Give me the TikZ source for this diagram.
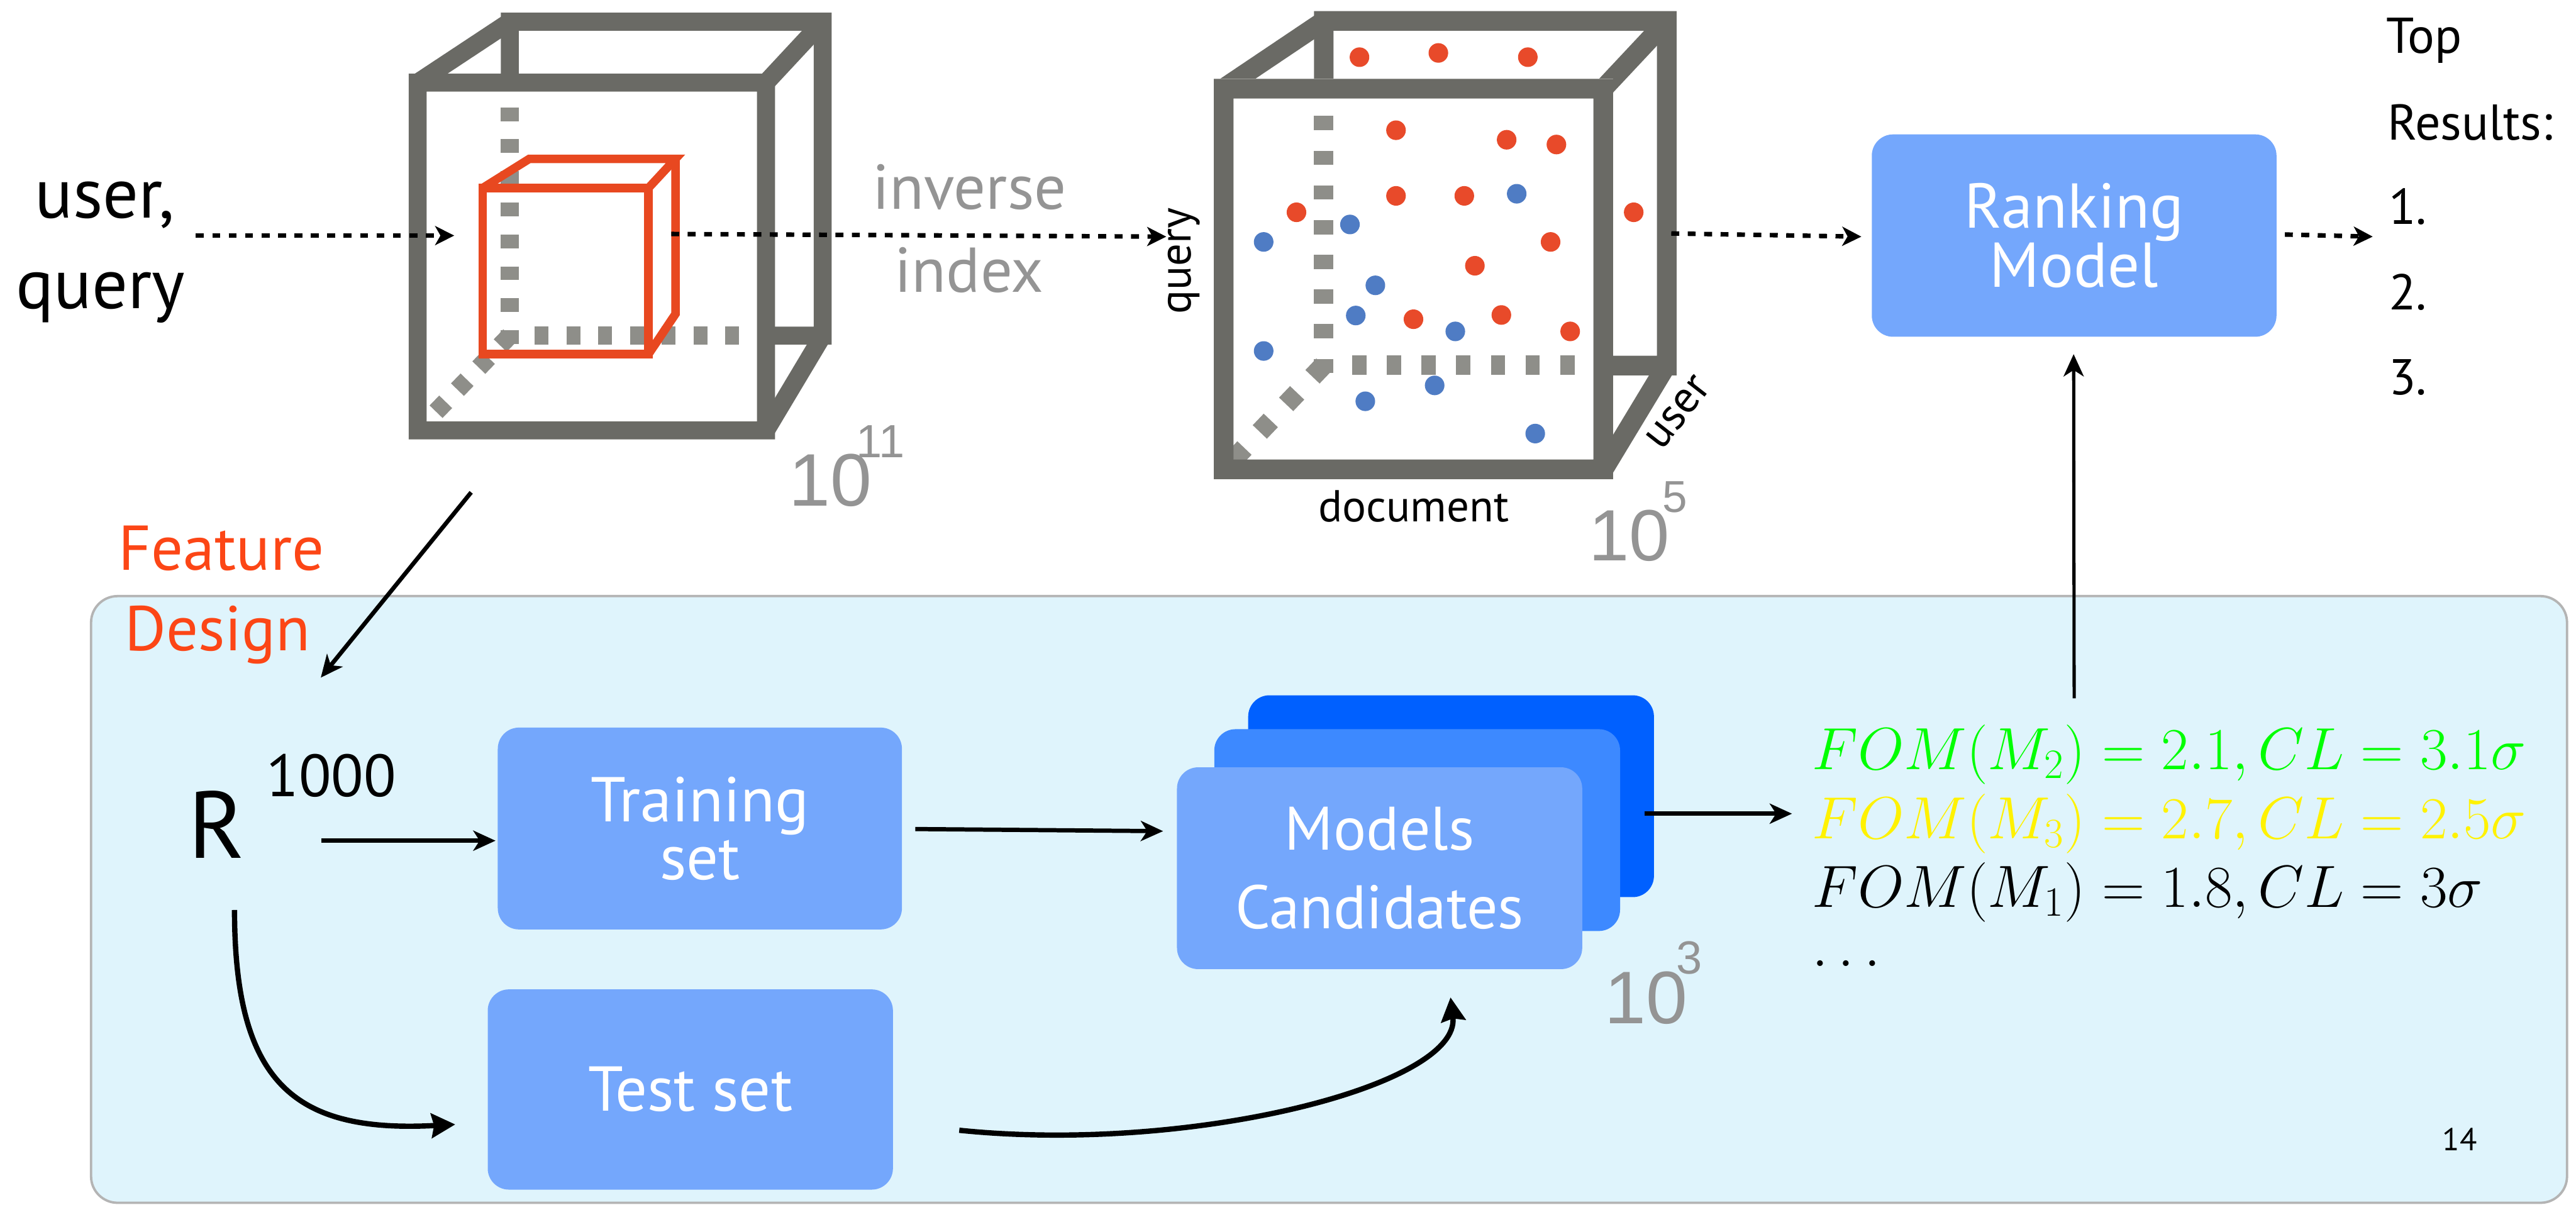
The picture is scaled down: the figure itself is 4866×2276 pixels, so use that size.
\RequirePackage{fix-cm}
\documentclass[tikz,border=0pt]{standalone}
\usepackage{fontspec}
\setmainfont{PT Sans}
\newfontfamily\numfont{Liberation Sans}
\usetikzlibrary{arrows.meta}
\definecolor{framegray}{RGB}{106,106,101}
\definecolor{hidgray}{RGB}{142,142,137}
\definecolor{cubered}{RGB}{232,72,32}
\definecolor{dotred}{RGB}{232,74,42}
\definecolor{dotblue}{RGB}{79,124,196}
\definecolor{boxblue}{RGB}{116,167,252}
\definecolor{midblue}{RGB}{61,137,255}
\definecolor{deepblue}{RGB}{0,96,255}
\definecolor{panelfill}{RGB}{223,244,252}
\definecolor{panelline}{RGB}{180,180,180}
\definecolor{numgray}{RGB}{148,148,148}
\definecolor{featred}{RGB}{252,70,22}
\newcommand\fsz[2]{\fontsize{#1}{#2}\selectfont}
\begin{document}
\begin{tikzpicture}[x=0.01cm,y=-0.01cm,
  lbl/.style={inner sep=0pt,outer sep=0pt,anchor=base west},
  dotarrow/.style={line width=0.085cm,dash pattern=on 0.15cm off 0.16cm,-{Stealth[length=0.36cm,width=0.36cm,inset=0.1cm]}},
  solidarrow/.style={line width=0.08cm,-{Stealth[length=0.42cm,width=0.38cm,inset=0.12cm]}},
  curvearrow/.style={line width=0.1cm,-{Stealth[length=0.45cm,width=0.46cm,inset=0.05cm]}},
  bluebox/.style={rounded corners=0.4cm,fill=boxblue,text=white,align=center,inner sep=0pt,font=\fsz{34}{31}},
  framefill/.style={fill=framegray,even odd rule},
  edgeA/.style={draw=framegray,line width=0.34cm},
  edgeB/.style={draw=framegray,line width=0.37cm},
  hidA/.style={draw=hidgray,line width=0.34cm,dash pattern=on 0.26cm off 0.34cm},
  hidB/.style={draw=hidgray,line width=0.37cm,dash pattern=on 0.27cm off 0.385cm},
  redcube/.style={draw=cubered,line width=0.16cm,line join=miter},
  rdot/.style={fill=dotred},
  bdot/.style={fill=dotblue},
  expo/.style={lbl,text=numgray}
]
\useasboundingbox (0,0) rectangle (4866,2276);

% ---------- panel ----------
\draw[fill=panelfill,draw=panelline,line width=0.045cm,rounded corners=0.5cm] (172,1126) rectangle (4849,2272);

% ---------- cube 1 ----------
\fill[framefill] (946,24) rectangle (1571,651) (980,58) rectangle (1537,617);
\draw[edgeA] (789,156) -- (963,41);
\draw[edgeA] (1447,156) -- (1554,41);
\draw[edgeA] (1447,813) -- (1554,634);
\fill[white] (772,139) rectangle (1464,830);
\draw[hidA] (963,203) -- (963,651);
\draw[hidA] (1010,634) -- (1398,634);
\draw[hidA,dash pattern=on 0.26cm off 0.32cm] (963,634) -- (806,796);
\fill[framefill] (772,139) rectangle (1464,830) (806,173) rectangle (1430,796);
% red cube
\draw[redcube] (912,355) rectangle (1225,669);
\draw[redcube] (912,355) -- (1000,300) -- (1276,300) -- (1225,355);
\draw[redcube] (1276,300) -- (1276,593) -- (1225,669);

% ---------- cube 2 ----------
\fill[framefill] (2482,21) rectangle (3167,709) (2519,58) rectangle (3130,672);
\draw[edgeB] (2311,167) -- (2500,40);
\draw[edgeB] (3029,167) -- (3148,40);
\draw[edgeB] (3029,887) -- (3148,690);
\fill[white] (2293,149) rectangle (3047,905);
\draw[hidB] (2500,219) -- (2500,709);
\draw[hidB] (2554,690) -- (2977,690);
\draw[hidB,dash pattern=on 0.3cm off 0.42cm] (2500,690) -- (2330,868);
\fill[framefill] (2293,149) rectangle (3047,905) (2330,186) rectangle (3010,868);
% dots
\foreach \p in {(2568,108),(2717,100),(2886,108),(2637,246),(2846,264),(2940,273),(2637,370),(2766,370),(3086,401),(2449,401),(2929,457),(2786,502),(2670,603),(2836,595),(2966,626)}
  \fill[rdot] \p circle[radius=0.185cm];
\foreach \p in {(2865,366),(2550,424),(2387,457),(2598,539),(2561,596),(2749,626),(2387,663),(2710,728),(2579,758),(2900,819)}
  \fill[bdot] \p circle[radius=0.185cm];

% ---------- labels top ----------
\node[lbl,font=\fsz{38}{38}] (user) at (66,412) {user,};
\node[lbl,font=\fsz{38}{38}] (query) at (30,583) {query};
\node[align=center,text=numgray,inner sep=0pt,font=\fsz{34}{44.5}] (inv) at (1831,432) {inverse\\index};
\node[rotate=90,inner sep=0pt,font=\fsz{24}{24}] (qaxis) at (2237,493) {query};
\node[lbl,font=\fsz{24}{24}] (doc) at (2490,986) {document};
\node[rotate=52,inner sep=0pt,font=\fsz{24}{24}] (uaxis) at (3170,779) {user};
\node[expo,font=\numfont\fsz{40}{40}] (e11) at (1490,956) {10};
\node[expo,font=\numfont\fsz{25}{25}] (e11s) at (1618,864) {11};
\node[expo,font=\numfont\fsz{39}{39}] (e5) at (3001,1059) {10};
\node[expo,font=\numfont\fsz{24}{24}] (e5s) at (3140,968) {5};
\node[expo,font=\numfont\fsz{40}{40}] (e3) at (3031,1933) {10};
\node[expo,font=\numfont\fsz{25}{25}] (e3s) at (3167,1839) {3};

% ---------- ranking and results ----------
\node[bluebox,minimum width=7.64cm,minimum height=3.82cm] (rank) at (3918,445) {Ranking\\Model};
\node[lbl,font=\fsz{27}{27}] (top) at (4508,100) {Top};
\node[lbl,font=\fsz{27}{27}] (res) at (4510,264) {Results:};
\node[lbl,font=\fsz{27}{27}] (r1) at (4512,423) {1.};
\node[lbl,font=\fsz{27}{27}] (r2) at (4512,585) {2.};
\node[lbl,font=\fsz{27}{27}] (r3) at (4512,746) {3.};

% ---------- lower panel content ----------
\node[lbl,font=\fsz{34}{34},text=featred] (feat) at (224,1077) {Feature};
\node[lbl,font=\fsz{34}{34},text=featred] (design) at (236,1229) {Design};
\node[lbl,font=\fsz{51}{51}] (R) at (356,1621) {R};
\node[lbl,font=\fsz{32}{32}] (Rexp) at (503,1505) {1000};
\node[bluebox,minimum width=7.63cm,minimum height=3.81cm] (train) at (1322,1565) {Training\\set};
\node[bluebox,minimum width=7.65cm,minimum height=3.78cm] (test) at (1304,2058) {Test set};
\node[bluebox,fill=deepblue,minimum width=7.66cm,minimum height=3.81cm] (mback) at (2741,1504) {};
\node[bluebox,fill=midblue,minimum width=7.66cm,minimum height=3.81cm] (mmid) at (2677,1568) {};
\node[bluebox,font=\fsz{33}{42},minimum width=7.65cm,minimum height=3.81cm] (models) at (2606,1640) {Models\\Candidates};
\node[lbl,font=\fsz{32}{32}] (fom2) at (3423,1453) {\color{green}$FOM(M_2)=2.1, CL=3.1\sigma$};
\node[lbl,font=\fsz{32}{32}] (fom3) at (3423,1584) {\color{yellow}$FOM(M_3)=2.7, CL=2.5\sigma$};
\node[lbl,font=\fsz{32}{32}] (fom1) at (3423,1714) {$FOM(M_1)=1.8, CL=3\sigma$};
\node[lbl,font=\fsz{32}{32}] (fomd) at (3423,1825) {$\dots$};
\node[lbl,font=\fsz{17}{17}] (page) at (4614,2173) {14};

% ---------- connector end points ----------
\coordinate (a1s) at (370,445);
\coordinate (a1e) at (858,445);
\coordinate (a2s) at (1268,442);
\coordinate (a2e) at (2203,447);
\coordinate (a3s) at (3157,441);
\coordinate (a3e) at (3516,447);
\coordinate (a4s) at (4316,443);
\coordinate (a4e) at (4482,447);
\coordinate (fs) at (890,930);
\coordinate (fe) at (606,1280);
\coordinate (rts) at (607,1588);
\coordinate (rte) at (936,1588);
\coordinate (rcs) at (443,1719);
\coordinate (rce) at (860,2124);
\coordinate (tms) at (1729,1566);
\coordinate (tme) at (2197,1570);
\coordinate (mfs) at (3106,1537);
\coordinate (mfe) at (3385,1537);
\coordinate (tcs) at (1812,2135);
\coordinate (tce) at (2740,1884);
\coordinate (vs) at (3918,1319);
\coordinate (ve) at (3917,669);

% ---------- connectors ----------
\draw[dotarrow] (a1s) -- (a1e);
\draw[dotarrow] (a2s) -- (a2e);
\draw[dotarrow] (a3s) -- (a3e);
\draw[dotarrow] (a4s) -- (a4e);
\draw[solidarrow] (fs) -- (fe);
\draw[solidarrow] (rts) -- (rte);
\draw[solidarrow] (tms) -- (tme);
\draw[solidarrow] (mfs) -- (mfe);
\draw[solidarrow,line width=0.06cm] (vs) -- (ve);
\draw[curvearrow] (rcs) .. controls (443,2050) and (560,2140) .. (rce);
\draw[curvearrow] (tcs) .. controls (2250,2180) and (2760,2050) .. (tce);
\end{tikzpicture}
\end{document}
